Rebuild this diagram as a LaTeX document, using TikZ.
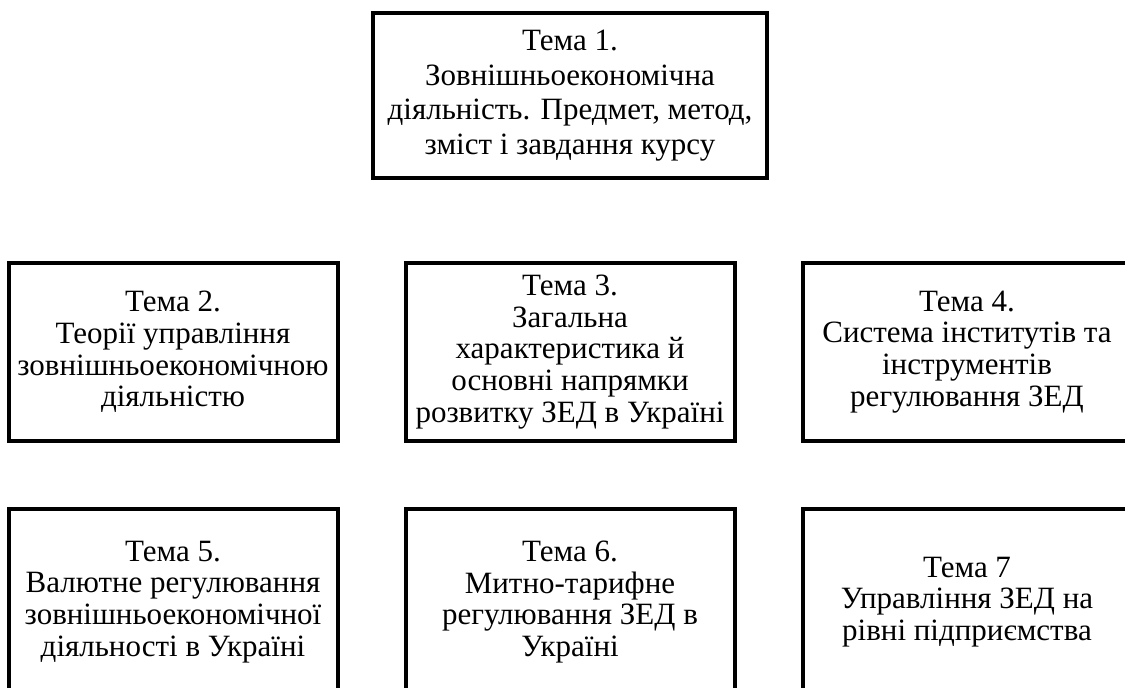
\documentclass[tikz,border=0pt]{standalone}
\usepackage{fontspec}
\setmainfont{Liberation Serif}
\usetikzlibrary{positioning}
\tikzset{
    course/.style={rectangle, minimum width=197pt, minimum height=82.5pt, align=center, draw=black, line width=2pt, inner sep=2pt, font=\fontsize{15.5}{17.3}\selectfont},
    topic/.style={rectangle, minimum width=164.5pt, minimum height=89pt, align=center, draw=black, line width=2pt, inner sep=2pt, font=\fontsize{15.5}{15.9}\selectfont}
}
\begin{document}
\begin{tikzpicture}[node distance=40.5pt and 32pt]
    \useasboundingbox (0,0) rectangle (562.5pt,-343.5pt);
    \node (intro) [course] at (285pt,-47.75pt) {Тема 1.\\Зовнішньоекономічна\\діяльність. Предмет, метод,\\зміст і завдання курсу};
    \node (sector) [topic, below=of intro] {Тема 3.\\Загальна\\характеристика й\\основні напрямки\\розвитку ЗЕД в Україні};
    \node (theory) [topic, left=of sector] {Тема 2.\\Теорії управління\\зовнішньоекономічною\\діяльністю};
    \node (inst) [topic, right=of sector] {Тема 4.\\Система інститутів та\\інструментів\\регулювання ЗЕД};
    \node (customs) [topic, below=32pt of sector, minimum height=93pt] {Тема 6.\\Митно-тарифне\\регулювання ЗЕД в\\Україні};
    \node (currency) [topic, left=of customs, minimum height=93pt] {Тема 5.\\Валютне регулювання\\зовнішньоекономічної\\діяльності в Україні};
    \node (firm) [topic, right=of customs, minimum height=93pt] {Тема 7\\Управління ЗЕД на\\рівні підприємства};
\end{tikzpicture}
\end{document}
